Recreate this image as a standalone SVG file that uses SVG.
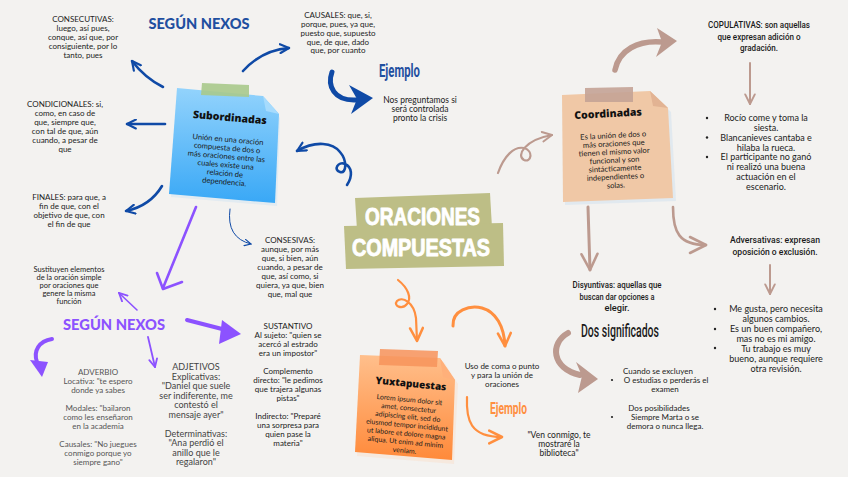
<svg xmlns="http://www.w3.org/2000/svg" width="848" height="477" viewBox="0 0 848 477">
<style>
.t{font-family:Lato,"Open Sans","Liberation Sans",sans-serif;font-size:8px;fill:#222;text-anchor:middle}
.ts{font-family:Lato,"Open Sans","Liberation Sans",sans-serif;font-size:7.5px;fill:#222;text-anchor:middle}
.tg{font-family:Lato,"Open Sans","Liberation Sans",sans-serif;font-size:8px;fill:#555;text-anchor:middle}
.tj{font-family:Lato,"Open Sans","Liberation Sans",sans-serif;font-size:9px;fill:#444;text-anchor:middle}
.tm{font-family:Lato,"Open Sans","Liberation Sans",sans-serif;font-size:9px;fill:#222;text-anchor:middle}
.tn{font-family:Lato,"Open Sans","Liberation Sans",sans-serif;font-size:8.5px;fill:#222;text-anchor:middle}
.cd{font-family:Roboto,"Liberation Sans",sans-serif;font-weight:500;font-size:9.8px;fill:#1a1a1a;text-anchor:middle}
.cdb{font-family:Roboto,"Liberation Sans",sans-serif;font-weight:500;font-size:17.5px;fill:#1a1a1a;text-anchor:middle}
.nt{font-family:Lato,"Open Sans","Liberation Sans",sans-serif;font-size:7.6px;fill:#1a1a1a;text-anchor:middle}
.ny{font-family:Lato,"Open Sans","Liberation Sans",sans-serif;font-size:7px;fill:#1a1a1a;text-anchor:middle}
.ttl{font-family:"Open Sans",Lato,"Liberation Sans",sans-serif;font-weight:800;font-size:10.5px;fill:#111;text-anchor:middle}
.hd{font-family:Lato,"Open Sans","Liberation Sans",sans-serif;font-weight:900;font-size:15px;text-anchor:middle}
.ej{font-family:Roboto,"Liberation Sans",sans-serif;font-weight:700;font-size:18px}
.big{font-family:"Liberation Sans",Roboto,sans-serif;font-weight:700;font-size:23px;fill:#fff;stroke:#fff;stroke-width:0.9;stroke-linejoin:round}
.bl{fill:none;stroke:#0f4aa6;stroke-linecap:round;stroke-linejoin:round}
.pu{fill:none;stroke:#8c52ff;stroke-linecap:round;stroke-linejoin:round}
.or{fill:none;stroke:#ff8f3f;stroke-linecap:round;stroke-linejoin:round}
.br{fill:none;stroke:#bc9a8f;stroke-linecap:round;stroke-linejoin:round}
</style>
<defs>
<marker id="mb" viewBox="0 0 10 10" refX="9" refY="5" markerWidth="11" markerHeight="11" markerUnits="userSpaceOnUse" orient="auto"><path d="M1,1 L9,5 L1,9" fill="none" stroke="#0f4aa6" stroke-width="2" stroke-linecap="round" stroke-linejoin="round"/></marker>
<marker id="mbs" viewBox="0 0 10 10" refX="9" refY="5" markerWidth="8" markerHeight="8" markerUnits="userSpaceOnUse" orient="auto"><path d="M1,1 L9,5 L1,9" fill="none" stroke="#0f4aa6" stroke-width="1.4" stroke-linecap="round"/></marker>
<marker id="mp" viewBox="0 0 10 10" refX="9" refY="5" markerWidth="10" markerHeight="10" markerUnits="userSpaceOnUse" orient="auto"><path d="M1,1 L9,5 L1,9" fill="none" stroke="#8c52ff" stroke-width="1.8" stroke-linecap="round"/></marker>
<marker id="mo" viewBox="0 0 10 10" refX="9" refY="5" markerWidth="16" markerHeight="16" markerUnits="userSpaceOnUse" orient="auto"><path d="M1,1 L9,5 L1,9" fill="none" stroke="#ff8f3f" stroke-width="1.6" stroke-linecap="round" stroke-linejoin="round"/></marker>
<marker id="mr" viewBox="0 0 10 10" refX="9" refY="5" markerWidth="12" markerHeight="12" markerUnits="userSpaceOnUse" orient="auto"><path d="M1,1 L9,5 L1,9" fill="none" stroke="#bc9a8f" stroke-width="1.6" stroke-linecap="round" stroke-linejoin="round"/></marker>
<marker id="mrl" viewBox="0 0 10 10" refX="9" refY="5" markerWidth="20" markerHeight="20" markerUnits="userSpaceOnUse" orient="auto"><path d="M1,1 L9,5 L1,9" fill="none" stroke="#bc9a8f" stroke-width="1.3" stroke-linecap="round" stroke-linejoin="round"/></marker>
<linearGradient id="gblue" x1="0" y1="0" x2="0" y2="1"><stop offset="0" stop-color="#93d3fc"/><stop offset="1" stop-color="#39a8f6"/></linearGradient>
<linearGradient id="gor" x1="0" y1="0" x2="0" y2="1"><stop offset="0" stop-color="#ffbf8c"/><stop offset="1" stop-color="#ff8a3a"/></linearGradient>
</defs>
<rect width="848" height="477" fill="#f3f2f0"/>

<g id="connectors">
<path class="bl" stroke-width="2.6" d="M163,87 Q145,78 132,61" marker-end="url(#mb)"/>
<path class="bl" stroke-width="2.6" d="M165,124 L127,124" marker-end="url(#mb)"/>
<path class="bl" stroke-width="2.6" d="M162,186 Q150,206 126,211" marker-end="url(#mb)"/>
<path class="bl" stroke-width="2.6" d="M243,71 Q262,50 289,48" marker-end="url(#mb)"/>
<path class="bl" stroke-width="1" d="M230,209 Q226,238 251,244" marker-end="url(#mbs)"/>
<path class="bl" stroke-width="2.6" d="M347,185 C353,176 352,167 345,164 C338,161 333,170 340,172 C347,174 347,160 340,152 C333,143 316,140 297,151" marker-end="url(#mb)"/>
<path class="bl" stroke-width="5" d="M332,72 C327,86 334,101 356,100"/>
<path d="M373,98 L349,85 L357,99 L351,114 Z" fill="#0f4aa6"/>
<path class="pu" stroke-width="2.6" d="M196,207 L163,288"/>
<path class="pu" stroke-width="2.6" d="M157,273 L163,289 L182,282"/>
<path class="pu" stroke-width="1.6" d="M137,310 L119,293" marker-end="url(#mp)"/>
<path class="pu" stroke-width="4" d="M187,320 L226,330"/>
<path d="M241,334 L222,320 L219,344 Z" fill="#8c52ff"/>
<path class="pu" stroke-width="1.8" d="M148,337 L155,367" marker-end="url(#mp)"/>
<path class="pu" stroke-width="4" d="M52,339 C39,341 33,351 37,362"/>
<path d="M42,377 L30,360 L48,362 Z" fill="#8c52ff"/>
<path class="or" stroke-width="2.2" d="M398,280 C408,288 412,298 407,304 C402,310 393,306 397,301 C402,296 414,302 416,318 L417,341" marker-end="url(#mo)"/>
<path class="or" stroke-width="3" d="M453,326 C452,310 470,305 482,308 C496,312 504,326 505,346" marker-end="url(#mo)"/>
<path class="or" stroke-width="2.2" d="M467,397 C466,420 470,437 502,437" marker-end="url(#mo)"/>
<path class="br" stroke-width="2.2" d="M498,173 C504,156 514,146 524,148 C534,151 531,163 524,160 C516,156 524,140 552,135" marker-end="url(#mr)"/>
<path class="br" stroke-width="5.5" d="M615,70 C619,50 638,40 662,42"/>
<path d="M677,41 L657,28 L662,42 L656,57 Z" fill="#bc9a8f"/>
<path class="br" stroke-width="2" d="M750,63 L750,104" marker-end="url(#mr)"/>
<path class="br" stroke-width="3" d="M588,207 L590,270" marker-end="url(#mrl)"/>
<path class="br" stroke-width="2.6" d="M673,207 C673,232 679,245 706,245" marker-end="url(#mrl)"/>
<path class="br" stroke-width="2" d="M770,265 L770,294" marker-end="url(#mr)"/>
<path class="br" stroke-width="6" d="M568,333 C550,343 551,368 580,375"/>
<path d="M598,379 L576,362 L582,376 L578,393 Z" fill="#bc9a8f"/>
</g>

<g id="segun-nexos-blue"><text class="hd" x="199" y="29" fill="#1f4fa0" textLength="101" lengthAdjust="spacingAndGlyphs">SEGÚN NEXOS</text></g>

<g id="consecutivas">
<text class="t" x="83" y="22">CONSECUTIVAS:</text>
<text class="t" x="83" y="31">luego, así pues,</text>
<text class="t" x="83" y="40">conque, así que, por</text>
<text class="t" x="83" y="49">consiguiente, por lo</text>
<text class="t" x="83" y="58">tanto, pues</text>
</g>
<g id="condicionales">
<text class="t" x="65" y="107">CONDICIONALES: si,</text>
<text class="t" x="65" y="116">como, en caso de</text>
<text class="t" x="65" y="125">que, siempre que,</text>
<text class="t" x="65" y="134">con tal de que, aún</text>
<text class="t" x="65" y="143">cuando, a pesar de</text>
<text class="t" x="65" y="152">que</text>
</g>
<g id="finales">
<text class="t" x="69" y="200">FINALES: para que, a</text>
<text class="t" x="69" y="209">fin de que, con el</text>
<text class="t" x="69" y="218">objetivo de que, con</text>
<text class="t" x="69" y="227">el fin de que</text>
</g>
<g id="causales">
<text class="t" x="338" y="18">CAUSALES: que, si,</text>
<text class="t" x="338" y="27">porque, pues, ya que,</text>
<text class="t" x="338" y="36">puesto que, supuesto</text>
<text class="t" x="338" y="44.5">que, de que, dado</text>
<text class="t" x="338" y="53">que, por cuanto</text>
</g>

<g id="subordinadas">
<polygon points="171,197 277,206 280,118 266,100 180,92" fill="#dde9f1" opacity="0.8"/>
<polygon points="177,88 263,96 279,114 275,203 169,194" fill="url(#gblue)"/>
<polygon points="263,96 279,114 266,111" fill="#a6dbfd"/>
<polygon points="202,83 249,85 249,97 201,95" fill="#a9c98b" opacity="0.9"/>
<g transform="rotate(5 227 150)">
<text class="ttl" x="227" y="121">Subordinadas</text>
<text class="nt" x="227" y="142">Unión en una oración</text>
<text class="nt" x="227" y="150.5">compuesta de dos o</text>
<text class="nt" x="227" y="159">más oraciones entre las</text>
<text class="nt" x="227" y="167.5">cuales existe una</text>
<text class="nt" x="227" y="176">relación de</text>
<text class="nt" x="227" y="184.5">dependencia.</text>
</g>
</g>

<g id="ejemplo-blue">
<text class="ej" x="379" y="77" fill="#1f4fa0" textLength="41" lengthAdjust="spacingAndGlyphs">Ejemplo</text>
</g>
<g id="nos-preguntamos">
<text class="tn" x="420" y="103">Nos preguntamos si</text>
<text class="tn" x="420" y="112.2">será controlada</text>
<text class="tn" x="420" y="121.4">pronto la crisis</text>
</g>

<g id="oraciones-compuestas">
<polygon points="355,198 490,193 492,228 357,230" fill="#bdbe86"/>
<polygon points="344,226 503,223 504,266 346,269" fill="#bdbe86"/>
<text class="big" x="365" y="225" textLength="115" lengthAdjust="spacingAndGlyphs">ORACIONES</text>
<text class="big" x="352" y="256" textLength="138" lengthAdjust="spacingAndGlyphs">COMPUESTAS</text>
</g>

<g id="consesivas">
<text class="t" x="290" y="243">CONSESIVAS:</text>
<text class="t" x="290" y="252">aunque, por más</text>
<text class="t" x="290" y="261">que, si bien, aún</text>
<text class="t" x="290" y="270">cuando, a pesar de</text>
<text class="t" x="290" y="279">que, así como, si</text>
<text class="t" x="290" y="288">quiera, ya que, bien</text>
<text class="t" x="290" y="297">que, mal que</text>
</g>

<g id="sustituyen">
<text class="ts" x="69" y="272">Sustituyen elementos</text>
<text class="ts" x="69" y="280">de la oración simple</text>
<text class="ts" x="69" y="288">por oraciones que</text>
<text class="ts" x="69" y="296">genere la misma</text>
<text class="ts" x="69" y="304">función</text>
</g>
<g id="segun-nexos-purple"><text class="hd" x="114" y="330" fill="#8c52ff" textLength="102" lengthAdjust="spacingAndGlyphs">SEGÚN NEXOS</text></g>

<g id="adverbio">
<text class="tg" x="98" y="375">ADVERBIO</text>
<text class="tg" x="98" y="384">Locativa: "te espero</text>
<text class="tg" x="98" y="393">donde ya sabes</text>
<text class="tg" x="98" y="411">Modales: "bailaron</text>
<text class="tg" x="98" y="420">como les enseñaron</text>
<text class="tg" x="98" y="429">en la academia</text>
<text class="tg" x="98" y="447">Causales: "No juegues</text>
<text class="tg" x="98" y="456">conmigo porque yo</text>
<text class="tg" x="98" y="465">siempre gano"</text>
</g>
<g id="adjetivos">
<text class="tj" x="196" y="370">ADJETIVOS</text>
<text class="tj" x="196" y="379.5">Explicativas:</text>
<text class="tj" x="196" y="389">"Daniel que suele</text>
<text class="tj" x="196" y="398.5">ser indiferente, me</text>
<text class="tj" x="196" y="408">contestó el</text>
<text class="tj" x="196" y="417.5">mensaje ayer"</text>
<text class="tj" x="196" y="436.5">Determinativas:</text>
<text class="tj" x="196" y="446">"Ana perdió el</text>
<text class="tj" x="196" y="455.5">anillo que le</text>
<text class="tj" x="196" y="465">regalaron"</text>
</g>
<g id="sustantivo">
<text class="t" x="288" y="329">SUSTANTIVO</text>
<text class="t" x="288" y="338">Al sujeto: "quien se</text>
<text class="t" x="288" y="347">acercó al estrado</text>
<text class="t" x="288" y="356">era un impostor"</text>
<text class="t" x="288" y="374">Complemento</text>
<text class="t" x="288" y="383">directo: "le pedimos</text>
<text class="t" x="288" y="392">que trajera algunas</text>
<text class="t" x="288" y="401">pistas"</text>
<text class="t" x="288" y="419">Indirecto: "Preparé</text>
<text class="t" x="288" y="428">una sorpresa para</text>
<text class="t" x="288" y="437">quien pase la</text>
<text class="t" x="288" y="446">materia"</text>
</g>

<g id="yuxtapuestas">
<polygon points="357,456 454,464 458,384 444,362 362,359" fill="#f6e6da" opacity="0.8"/>
<polygon points="360,355 440,358 455,380 452,460 355,452" fill="url(#gor)"/>
<polygon points="440,358 455,380 443,377" fill="#ffb07a"/>
<polygon points="380,349 438,351 437,367 379,365" fill="#f7935a" opacity="0.85"/>
<g transform="rotate(5.5 408 415)">
<text class="ttl" x="408" y="387" style="font-size:10px">Yuxtapuestas</text>
<text class="ny" x="408" y="402">Lorem ipsum dolor sit</text>
<text class="ny" x="408" y="410.5">amet, consectetur</text>
<text class="ny" x="408" y="419">adipiscing elit, sed do</text>
<text class="ny" x="408" y="427.5">eiusmod tempor incididunt</text>
<text class="ny" x="408" y="436">ut labore et dolore magna</text>
<text class="ny" x="408" y="444.5">aliqua. Ut enim ad minim</text>
<text class="ny" x="408" y="453">veniam.</text>
</g>
</g>

<g id="uso-de-coma">
<text class="t" x="502" y="369">Uso de coma o punto</text>
<text class="t" x="502" y="378">y para la unión de</text>
<text class="t" x="502" y="387">oraciones</text>
</g>
<g id="ejemplo-orange"><text class="ej" x="490" y="414" fill="#ff8f3f" style="font-size:17px" textLength="37" lengthAdjust="spacingAndGlyphs">Ejemplo</text></g>
<g id="ven-conmigo">
<text class="tn" x="559" y="438">"Ven conmigo, te</text>
<text class="tn" x="559" y="447.2">mostraré la</text>
<text class="tn" x="559" y="456.4">biblioteca"</text>
</g>

<g id="coordinadas">
<polygon points="565,205 676,201 671,112 655,96 566,99" fill="#dfe8ee" opacity="0.9"/>
<polygon points="562,95 650,91 668,108 673,198 563,202" fill="#f0c8a6"/>
<polygon points="650,91 668,108 653,106" fill="#e2b393"/>
<polygon points="585,88 633,87 633,102 585,102" fill="#c4a396" opacity="0.9"/>
<g transform="rotate(-3 614 150)">
<text class="ttl" x="610" y="117">Coordinadas</text>
<text class="nt" x="614" y="138">Es la unión de dos o</text>
<text class="nt" x="614" y="146.3">más oraciones que</text>
<text class="nt" x="614" y="154.6">tienen el mismo valor</text>
<text class="nt" x="614" y="162.9">funcional y son</text>
<text class="nt" x="614" y="171.2">sintácticamente</text>
<text class="nt" x="614" y="179.5">independientes o</text>
<text class="nt" x="614" y="188">solas.</text>
</g>
</g>

<g id="copulativas">
<text class="cd" x="759" y="28" textLength="102" lengthAdjust="spacingAndGlyphs">COPULATIVAS: son aquellas</text>
<text class="cd" x="759" y="39.5" textLength="83" lengthAdjust="spacingAndGlyphs">que expresan adición o</text>
<text class="cd" x="759" y="51" textLength="38" lengthAdjust="spacingAndGlyphs">gradación.</text>
</g>
<g id="ejemplos-copulativas">
<circle cx="707" cy="118" r="1.2" fill="#222"/>
<circle cx="707" cy="137.5" r="1.2" fill="#222"/>
<circle cx="707" cy="157" r="1.2" fill="#222"/>
<text class="tm" x="766" y="121">Rocío come y toma la</text>
<text class="tm" x="766" y="131">siesta.</text>
<text class="tm" x="766" y="141">Blancanieves cantaba e</text>
<text class="tm" x="766" y="150.5">hilaba la rueca.</text>
<text class="tm" x="766" y="160">El participante no ganó</text>
<text class="tm" x="766" y="170">ni realizó una buena</text>
<text class="tm" x="766" y="180">actuación en el</text>
<text class="tm" x="766" y="190">escenario.</text>
</g>
<g id="adversativas">
<text class="cd" x="775" y="243" textLength="90" lengthAdjust="spacingAndGlyphs">Adversativas: expresan</text>
<text class="cd" x="775" y="255" textLength="85" lengthAdjust="spacingAndGlyphs">oposición o exclusión.</text>
</g>
<g id="ejemplos-adversativas">
<circle cx="715" cy="309" r="1.2" fill="#222"/>
<circle cx="715" cy="329" r="1.2" fill="#222"/>
<circle cx="715" cy="348" r="1.2" fill="#222"/>
<text class="tm" x="776" y="312">Me gusta, pero necesita</text>
<text class="tm" x="776" y="321.5">algunos cambios.</text>
<text class="tm" x="776" y="332">Es un buen compañero,</text>
<text class="tm" x="776" y="341.5">mas no es mi amigo.</text>
<text class="tm" x="776" y="351.5">Tu trabajo es muy</text>
<text class="tm" x="776" y="362">bueno, aunque requiere</text>
<text class="tm" x="776" y="372">otra revisión.</text>
</g>
<g id="disyuntivas">
<text class="cd" x="617" y="288" textLength="89" lengthAdjust="spacingAndGlyphs">Disyuntivas: aquellas que</text>
<text class="cd" x="617" y="299.5" textLength="75" lengthAdjust="spacingAndGlyphs">buscan dar opciones a</text>
<text class="cd" x="617" y="311" textLength="25" lengthAdjust="spacingAndGlyphs">elegir.</text>
</g>
<g id="dos-significados"><text class="cdb" x="620" y="337" textLength="78" lengthAdjust="spacingAndGlyphs">Dos significados</text></g>
<g id="ejemplos-disyuntivas">
<circle cx="612" cy="380" r="1.1" fill="#222"/>
<circle cx="612" cy="417" r="1.1" fill="#222"/>
<text class="t" x="658" y="374">Cuando se excluyen</text>
<text class="t" x="666" y="383">O estudias o perderás el</text>
<text class="t" x="665" y="392">examen</text>
<text class="t" x="659" y="411">Dos posibilidades</text>
<text class="t" x="665" y="420">Siempre Marta o se</text>
<text class="t" x="665" y="429">demora o nunca llega.</text>
</g>
</svg>
